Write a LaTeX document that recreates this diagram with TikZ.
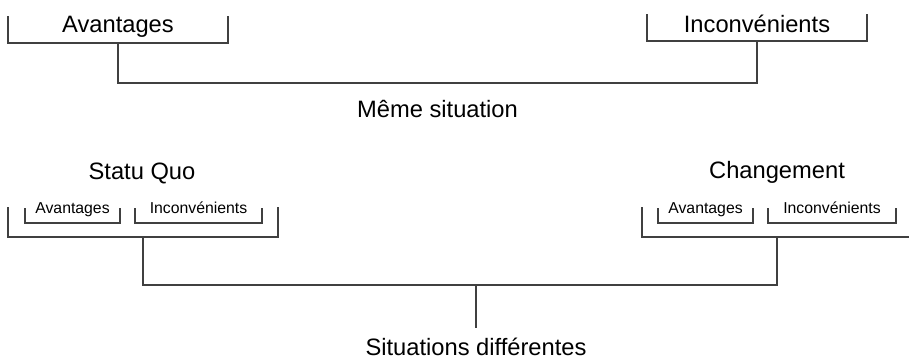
\documentclass[tikz,border=0pt]{standalone}
\usepackage{fontspec}
\setmainfont{Liberation Sans}
\usetikzlibrary{calc}
\tikzset{
  bigtxt/.style={font=\fontsize{11.85}{14}\selectfont, inner sep=0pt, anchor=base},
  smalltxt/.style={font=\fontsize{7.9}{9.5}\selectfont, inner sep=0pt, anchor=base},
  brkline/.style={draw=black!75, line width=0.6pt}
}
% open bracket: name, left x, right x, top y, bottom y (px, y downwards)
\newcommand{\mkbracket}[5]{%
  \coordinate (#1-l) at (#2,#5);
  \coordinate (#1-r) at (#3,#5);
  \coordinate (#1) at ($(#1-l)!0.5!(#1-r)$);
  \draw[brkline] (#2,#4) -- (#1-l) -- (#1-r) -- (#3,#4);
}

\begin{document}
\begin{tikzpicture}[x=0.5pt, y=-0.5pt]
\useasboundingbox (0,0) rectangle (909,359);

% same situation
\node[bigtxt] (avg) at (118,32) {Avantages};
\node[bigtxt] (inc) at (757,32) {Inconvénients};
\mkbracket{avgb}{8}{228}{16}{43}
\mkbracket{incb}{647}{867}{14}{41}
\coordinate (topjoin) at (437.5,83);
\draw[brkline] (avgb) |- (topjoin) -| (incb);
\node[bigtxt] (meme) at (437.5,117) {Même situation};

% different situations
\node[bigtxt] (statu) at (142,179) {Statu Quo};
\node[bigtxt] (chg) at (777,178) {Changement};

\node[smalltxt] (sqavg) at (72.5,213) {Avantages};
\node[smalltxt] (sqinc) at (198.5,213) {Inconvénients};
\node[smalltxt] (chavg) at (705.5,213) {Avantages};
\node[smalltxt] (chinc) at (832,213) {Inconvénients};
\mkbracket{sqavgb}{25}{120}{208}{223}
\mkbracket{sqincb}{135}{262}{208}{223}
\mkbracket{chavgb}{658}{753}{208}{223}
\mkbracket{chincb}{768}{896}{208}{223}

\mkbracket{sqb}{8}{278}{207}{237}
\mkbracket{chb}{642}{912}{207}{237}

\node[bigtxt] (diff) at (476,355) {Situations différentes};
\coordinate (botjoin) at (476,285);
\draw[brkline] (sqb) |- (botjoin) -| (chb);
\draw[brkline] (botjoin) -- ([yshift=4.5pt]diff.north);
\end{tikzpicture}
\end{document}
